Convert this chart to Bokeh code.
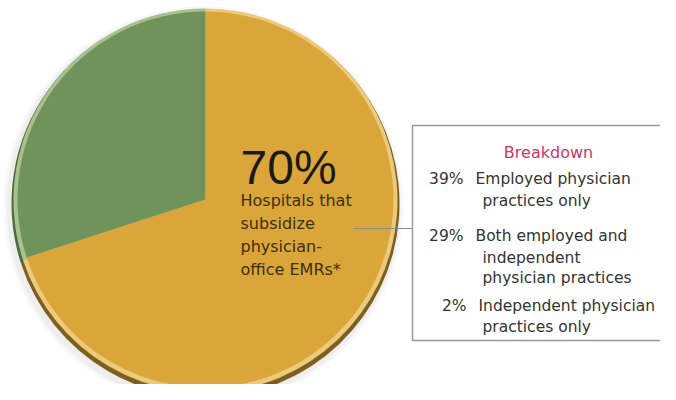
import numpy as np
from bokeh.plotting import figure
from bokeh.models import Range1d, ColumnDataSource
from bokeh.core.properties import value
from bokeh.embed import file_html
from bokeh.resources import INLINE

# ---- data ----
slice_labels = ["Other hospitals", "Hospitals that subsidize physician-office EMRs"]
slice_values = [30, 70]
slice_colors = ["#6f935b", "#dba639"]
rim_colors = ["#4b6a3e", "#7d5f1e"]
light_colors = ["#a9c08f", "#ecca7c"]

headline_pct = "70%"
headline_lines = ["Hospitals that", "subsidize", "physician-", "office EMRs*"]

breakdown_title = "Breakdown"
breakdown_pcts = ["39%", "29%", "2%"]
breakdown_lines = [
    ["Employed physician", "practices only"],
    ["Both employed and", "independent", "physician practices"],
    ["Independent physician", "practices only"],
]

W, H = 660, 384
p = figure(width=W, height=H, output_backend="svg", toolbar_location=None,
           x_range=Range1d(0, W), y_range=Range1d(400 - H, 400),
           min_border=0, outline_line_color=None)
p.axis.visible = False
p.grid.visible = False
p.background_fill_color = "white"

def Y(sy):
    return 400 - sy

# angles from values (anticlockwise from 12 o'clock)
vals = np.array(slice_values, dtype=float)
frac = vals / vals.sum()
cum = np.concatenate([[0], np.cumsum(frac)])
start = np.pi / 2 + 2 * np.pi * cum[:-1]
end = np.pi / 2 + 2 * np.pi * cum[1:]

cx = 205
# soft shadow
for r, a in [(200, 0.05), (197, 0.07)]:
    p.circle(x=[cx - 2], y=[Y(206)], radius=r, fill_color="#777777",
             fill_alpha=a, line_color=None)

def pie_layer(cy, r, colors):
    src = ColumnDataSource(dict(start=start, end=end, color=colors))
    p.wedge(x=cx, y=cy, radius=r, start_angle="start", end_angle="end",
            fill_color="color", line_color=None, source=src)

pie_layer(Y(203), 194, rim_colors)
pie_layer(Y(200), 192, light_colors)
pie_layer(Y(199), 188, slice_colors)

# headline text
p.text(x=[240], y=[Y(167)], text=[headline_pct], text_font=value("Liberation Sans"),
       text_font_size="48px", text_color="#1a1a1a", text_baseline="alphabetic")
base = [200, 223, 246, 269]
p.text(x=[240] * len(headline_lines), y=[Y(b) for b in base], text=headline_lines,
       text_font=value("DejaVu Sans"), text_font_size="16px",
       text_color="#3a2f10", text_baseline="alphabetic")

# leader line
p.line(x=[353, 412], y=[Y(228), Y(228)], line_color="#8a8a8a", line_width=1.2)

# breakdown box
p.quad(left=[412], right=[720], top=[Y(125)], bottom=[Y(340)],
       fill_color="white", line_color="#9a9a9a", line_width=1.5)
p.text(x=[548], y=[Y(152)], text=[breakdown_title], text_font=value("DejaVu Sans"),
       text_font_size="16px", text_color="#c8386b", text_align="center",
       text_baseline="alphabetic")

row_base = [[178, 200], [235, 257, 277], [305, 326]]
pct_right = [463, 463, 466]
first_x = [475, 475, 478]
for i, pct in enumerate(breakdown_pcts):
    p.text(x=[pct_right[i]], y=[Y(row_base[i][0])], text=[pct],
           text_font=value("DejaVu Sans"), text_font_size="15.5px",
           text_color="#333333", text_align="right", text_baseline="alphabetic")
    xs = [first_x[i]] + [482] * (len(breakdown_lines[i]) - 1)
    p.text(x=xs, y=[Y(b) for b in row_base[i]], text=breakdown_lines[i],
           text_font=value("DejaVu Sans"), text_font_size="15.5px",
           text_color="#333333", text_baseline="alphabetic")

open("out.html", "w").write(file_html(p, INLINE))
